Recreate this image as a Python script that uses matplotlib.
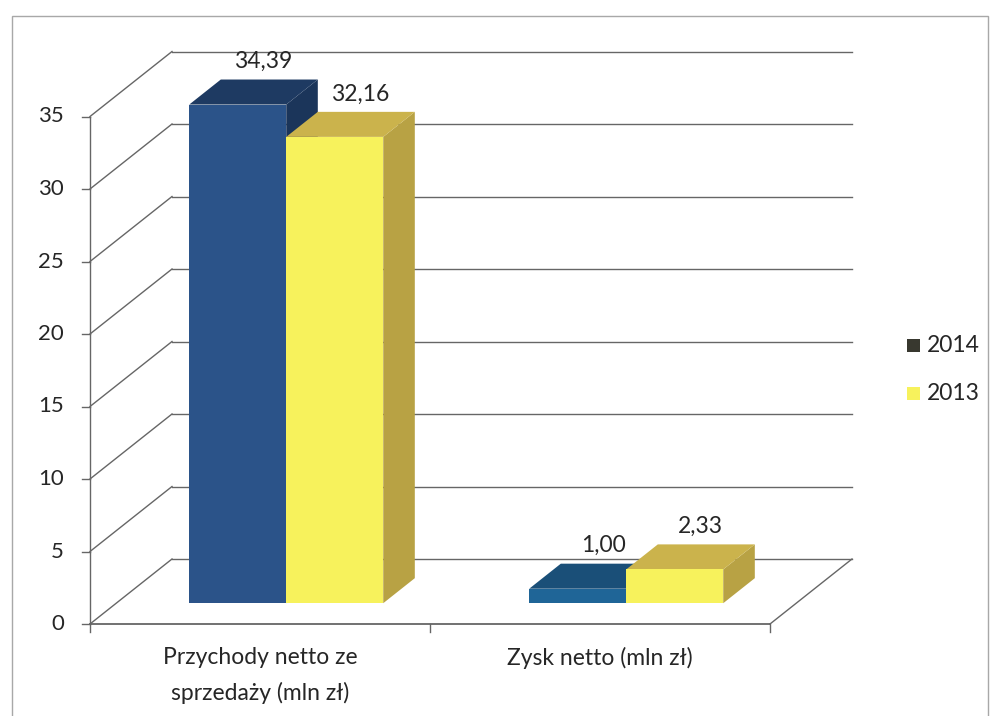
import matplotlib
matplotlib.use("Agg")
import matplotlib.pyplot as plt
from matplotlib.patches import Polygon, Rectangle

# ---- data ----
categories = ["Przychody netto ze\nsprzedaży (mln zł)", "Zysk netto (mln zł)"]
series_names = ["2014", "2013"]
values_2014 = [34.39, 1.00]
values_2013 = [32.16, 2.33]
y_ticks = [0, 5, 10, 15, 20, 25, 30, 35]

# ---- styling ----
plt.rcParams['font.family'] = ['Lato', 'DejaVu Sans']
FS = 16.5
FS_TICK = 16
TXT = '#262626'
GRID = '#666666'

W, H = 996, 716
PX, PY = 340.0, 14.5          # pixels per category unit / per value unit
X0, Y0 = 90.0, 624.0          # pixel position of data origin (from top-left)
DX, DY = 82.0 / PX, 65.0 / PY # full depth offset in data units
BW = 97.0 / PX                # bar width
D0, D1 = 0.32, 0.705          # bar front/back depth fraction

fig = plt.figure(figsize=(W / 100, H / 100), dpi=100)
ax = fig.add_axes([0, 0, 1, 1])
ax.axis('off')
ax.set_xlim(-X0 / PX, (W - X0) / PX)
ax.set_ylim((Y0 - H) / PY, Y0 / PY)

# outer frame
fig.patches.append(Rectangle((12 / W, -0.02), (988 - 12) / W, 1 - 16 / H + 0.02,
                             transform=fig.transFigure, fill=False,
                             edgecolor='#a8a8a8', lw=1.0))

ncat = len(categories)
ymax = y_ticks[-1]

# walls / gridlines
for v in y_ticks:
    ax.plot([0, DX], [v, v + DY], color=GRID, lw=1.0, zorder=1)
    ax.plot([DX, ncat + DX], [v + DY, v + DY], color=GRID, lw=1.0, zorder=1)
ax.plot([ncat, ncat + DX], [0, DY], color=GRID, lw=1.0, zorder=1)

# axes
ax.plot([0, 0], [0, ymax], color=GRID, lw=1.0, zorder=5)
ax.plot([0, ncat], [0, 0], color=GRID, lw=1.3, zorder=5)
tick_len_x = 8 / PX
tick_len_y = 8 / PY
for v in y_ticks:
    ax.plot([-tick_len_x, 0], [v, v], color=GRID, lw=1.0, zorder=5)
    ax.text(-26 / PX, v, str(v), ha='right', va='center', fontsize=FS_TICK, color=TXT)
for i in range(ncat + 1):
    ax.plot([i, i], [0, -tick_len_y], color=GRID, lw=1.0, zorder=5)
for i, c in enumerate(categories):
    for k, line in enumerate(c.split('\n')):
        ax.text(i + 0.5, -(34 + 35 * k) / PY, line, ha='center', va='center',
                fontsize=FS, color=TXT)

# bars
front_cols = [['#2B5389', '#1F6597'], ['#F7F25C', '#F7F25C']]
top_cols = [['#1E3A62', '#1A4F78'], ['#CBB34C', '#CBB34C']]
side_cols = [['#1B355A', '#174A70'], ['#B8A244', '#B8A244']]
series = [values_2014, values_2013]

def proj(x, y, d):
    return (x + d * DX, y + d * DY)

z = 10
for i in range(ncat):
    for j, vals in enumerate(series):
        h = vals[i]
        x0 = i + 0.5 - BW + j * BW
        x1 = x0 + BW
        front = [proj(x0, 0, D0), proj(x1, 0, D0), proj(x1, h, D0), proj(x0, h, D0)]
        top = [proj(x0, h, D0), proj(x1, h, D0), proj(x1, h, D1), proj(x0, h, D1)]
        side = [proj(x1, 0, D0), proj(x1, 0, D1), proj(x1, h, D1), proj(x1, h, D0)]
        ax.add_patch(Polygon(side, closed=True, facecolor=side_cols[j][i], edgecolor='none', zorder=z))
        ax.add_patch(Polygon(top, closed=True, facecolor=top_cols[j][i], edgecolor='none', zorder=z))
        ax.add_patch(Polygon(front, closed=True, facecolor=front_cols[j][i], edgecolor='none', zorder=z))
        z += 1
        lx, ly = proj(x0 + BW / 2, h, D1)
        ax.text(lx - 6 / PX, ly + 18 / PY, f"{h:.2f}".replace('.', ','), ha='center', va='center',
                fontsize=FS, color=TXT, zorder=30)

# legend
leg_cols = ['#38382f', '#F7F25C']
for k, name in enumerate(series_names):
    yc = 1 - (345 + 48 * k) / H
    fig.patches.append(Rectangle((907 / W, yc - 7 / H), 13 / W, 13 / H,
                                 transform=fig.transFigure, facecolor=leg_cols[k],
                                 edgecolor='none'))
    fig.text(927 / W, yc, name, ha='left', va='center', fontsize=FS, color=TXT)

fig.savefig("out.png", dpi=100, facecolor='white')
